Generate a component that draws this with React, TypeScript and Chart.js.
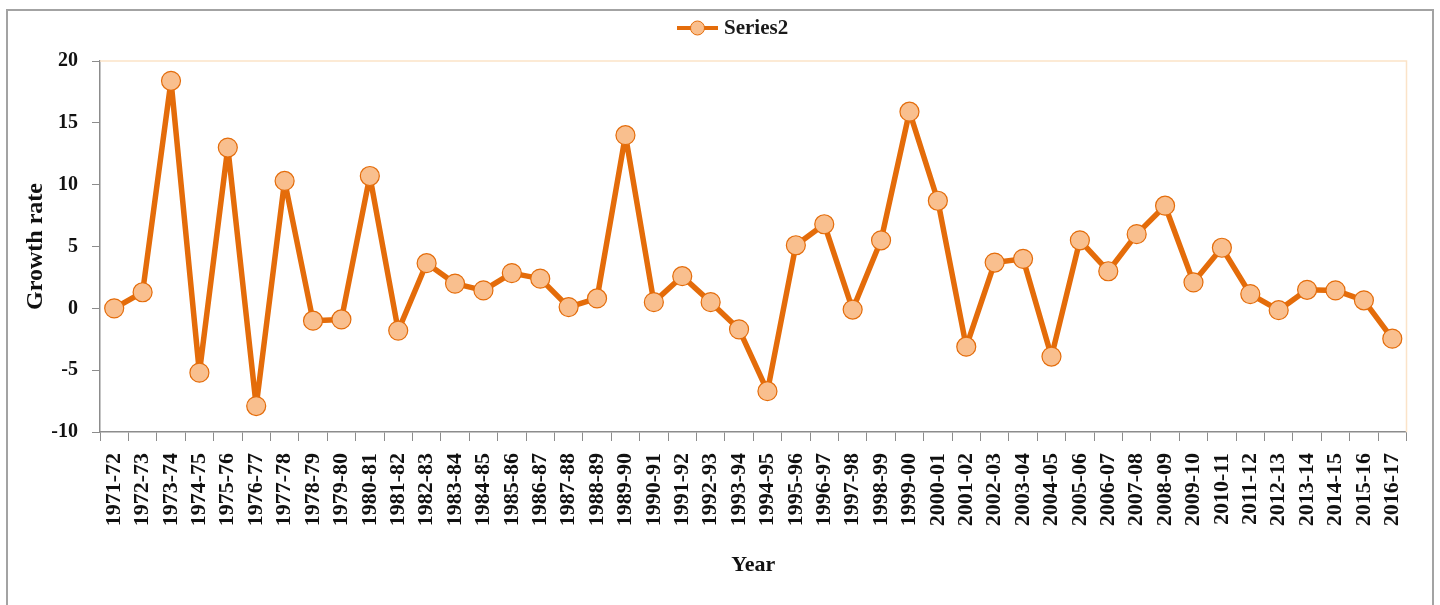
import React, { useEffect, useRef } from "react";
import { Chart, registerables } from "chart.js";

Chart.register(...registerables);

const categories: string[] = [
  "1971-72", "1972-73", "1973-74", "1974-75", "1975-76", "1976-77", "1977-78", "1978-79",
  "1979-80", "1980-81", "1981-82", "1982-83", "1983-84", "1984-85", "1985-86", "1986-87",
  "1987-88", "1988-89", "1989-90", "1990-91", "1991-92", "1992-93", "1993-94", "1994-95",
  "1995-96", "1996-97", "1997-98", "1998-99", "1999-00", "2000-01", "2001-02", "2002-03",
  "2003-04", "2004-05", "2005-06", "2006-07", "2007-08", "2008-09", "2009-10", "2010-11",
  "2011-12", "2012-13", "2013-14", "2014-15", "2015-16", "2016-17",
];

const growthRate: number[] = [
  0.0, 1.3, 18.4, -5.2, 13.0, -7.9, 10.3, -1.0,
  -0.9, 10.7, -1.8, 3.65, 2.0, 1.45, 2.85, 2.4,
  0.1, 0.8, 14.0, 0.5, 2.6, 0.5, -1.7, -6.7,
  5.1, 6.8, -0.1, 5.5, 15.9, 8.7, -3.1, 3.7,
  4.0, -3.9, 5.5, 3.0, 6.0, 8.3, 2.1, 4.9,
  1.15, -0.15, 1.5, 1.45, 0.65, -2.45,
];

const seriesName = "Series2";
const yTitle = "Growth rate";
const xTitle = "Year";
const yMin = -10;
const yMax = 20;
const yStep = 5;

const FONT = "'Liberation Serif', 'Times New Roman', serif";
const LINE = "#E46C0A";
const FILL = "#F9BF8E";

const plotFramePlugin = {
  id: "plotFrame",
  beforeDatasetsDraw(chart: any) {
    const { ctx, chartArea } = chart;
    ctx.save();
    ctx.strokeStyle = "#FBE3C8";
    ctx.lineWidth = 1.5;
    ctx.beginPath();
    ctx.moveTo(chartArea.left, chartArea.top);
    ctx.lineTo(chartArea.right, chartArea.top);
    ctx.lineTo(chartArea.right, chartArea.bottom);
    ctx.stroke();
    ctx.restore();
  },
};

const legendPlugin = {
  id: "customLegend",
  afterDraw(chart: any) {
    const { ctx } = chart;
    const cy = 17;
    ctx.save();
    ctx.strokeStyle = LINE;
    ctx.lineWidth = 4;
    ctx.beginPath();
    ctx.moveTo(669, cy);
    ctx.lineTo(710, cy);
    ctx.stroke();
    ctx.beginPath();
    ctx.arc(689.5, cy, 7, 0, Math.PI * 2);
    ctx.fillStyle = FILL;
    ctx.fill();
    ctx.lineWidth = 1;
    ctx.strokeStyle = LINE;
    ctx.stroke();
    ctx.fillStyle = "#1a1a1a";
    ctx.font = `bold 21px ${FONT}`;
    ctx.textBaseline = "middle";
    ctx.textAlign = "left";
    ctx.fillText(seriesName, 716, cy + 1);
    ctx.restore();
  },
};

export default function App() {
  const canvasRef = useRef<HTMLCanvasElement | null>(null);

  useEffect(() => {
    document.body.style.overflow = "hidden";
    const canvas = canvasRef.current;
    if (!canvas) return;
    const chart = new Chart(canvas, {
      type: "line",
      data: {
        labels: categories,
        datasets: [
          {
            label: seriesName,
            data: growthRate,
            borderColor: LINE,
            borderWidth: 5.5,
            borderJoinStyle: "round",
            borderCapStyle: "round",
            backgroundColor: FILL,
            pointBackgroundColor: FILL,
            pointBorderColor: LINE,
            pointBorderWidth: 1.2,
            pointRadius: 9.5,
            pointHoverRadius: 9.5,
            tension: 0,
            clip: false as any,
          },
        ],
      },
      options: {
        animation: false,
        responsive: false,
        maintainAspectRatio: false,
        devicePixelRatio: 1,
        layout: { padding: { left: 0, right: 25.5, top: 50, bottom: 0 } },
        plugins: {
          legend: { display: false },
          tooltip: { enabled: false },
        },
        scales: {
          x: {
            type: "category",
            offset: true,
            afterFit(scale: any) {
              scale.height = 173;
            },
            grid: {
              display: true,
              offset: true,
              drawOnChartArea: false,
              drawTicks: true,
              tickLength: 9,
              color: "#8c8c8c",
              lineWidth: 1,
            },
            border: { display: true, color: "#8c8c8c", width: 1.5 },
            ticks: {
              autoSkip: false,
              maxRotation: 90,
              minRotation: 90,
              padding: 12,
              color: "#111",
              font: { family: FONT, size: 22, weight: "bold" },
            },
            title: {
              display: true,
              text: xTitle,
              color: "#111",
              font: { family: FONT, size: 22, weight: "bold" },
              padding: { top: 0, bottom: 26 },
            },
          },
          y: {
            min: yMin,
            max: yMax,
            afterFit(scale: any) {
              scale.width = 92;
            },
            grid: {
              display: true,
              drawOnChartArea: false,
              drawTicks: true,
              tickLength: 8,
              color: "#8c8c8c",
              lineWidth: 1,
            },
            border: { display: true, color: "#8c8c8c", width: 1.5 },
            ticks: {
              stepSize: yStep,
              padding: 14,
              color: "#111",
              font: { family: FONT, size: 20, weight: "bold" },
            },
            title: {
              display: true,
              text: yTitle,
              color: "#111",
              font: { family: FONT, size: 24, weight: "bold" },
              padding: { top: 13, bottom: 0 },
            },
          },
        },
      },
      plugins: [plotFramePlugin, legendPlugin],
    });
    return () => chart.destroy();
  }, []);

  return (
    <div
      style={{
        position: "absolute",
        left: 6,
        top: 9,
        width: 1428,
        height: 596,
        boxSizing: "border-box",
        border: "2px solid #a3a3a3",
        borderBottom: "none",
        background: "#fff",
      }}
    >
      <canvas
        ref={canvasRef}
        width={1424}
        height={594}
        style={{ position: "absolute", left: 0, top: 0, width: 1424, height: 594 }}
      />
    </div>
  );
}
